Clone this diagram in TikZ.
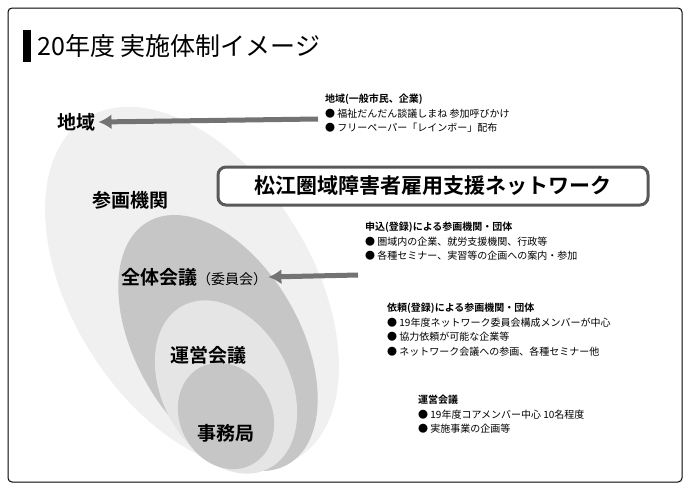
\documentclass[tikz,border=0pt]{standalone}
\usepackage{fontspec}
\setmainfont{Noto Sans CJK JP}
\newfontfamily\jpb{Noto Sans CJK JP Bold}
\begin{document}
\begin{tikzpicture}[x=1pt,y=-1pt,
 lbl/.style={font=\jpb\fontsize{19}{19}\selectfont,text=black},
 small/.style={font=\fontsize{10}{14.5}\selectfont,anchor=north west,align=left,inner sep=0},
 arr/.style={draw=gray!90!black,line width=5pt,-{Latex[length=13pt,width=15pt]}}]
\usetikzlibrary{arrows.meta}
\useasboundingbox (0,0) rectangle (690,490);
\draw[line width=1pt,rounded corners=4pt] (8,8) rectangle (682,482);
\fill (23,30) rectangle (31,62);
\node[anchor=west,font=\fontsize{25}{25}\selectfont] (title) at (34,46) {20年度 実施体制イメージ};
% ellipses
\fill[gray!12] (192,288) ellipse[x radius=200,y radius=120,rotate=-58];
\fill[gray!45] (218,343) ellipse[x radius=140,y radius=82,rotate=-60];
\fill[gray!20] (226,387) ellipse[x radius=92,y radius=64,rotate=-62];
\fill[gray!45] (226,416) ellipse[x radius=55,y radius=46,rotate=-62];
% labels
\node[lbl] (chiiki) at (76,122) {地域};
\node[lbl] (sankaku) at (130,200) {参画機関};
\node[lbl,anchor=west,inner sep=1pt] (zentai) at (120,277) {全体会議{\normalfont\fontsize{14}{14}\selectfont （委員会）}};
\node[lbl] (unei) at (208,355) {運営会議};
\node[lbl] (jimu) at (226,433) {事務局};
% network box
\node[draw=gray!70!black,line width=3pt,rounded corners=8pt,fill=white,minimum width=430pt,minimum height=38pt,font=\jpb\fontsize{21}{21}\selectfont] (net) at (433,186) {松江圏域障害者雇用支援ネットワーク};
% text blocks
\node[small] (t1) at (325,94) {{\jpb 地域(一般市民、企業)}\\● 福祉だんだん談議しまね 参加呼びかけ\\● フリーペーパー「レインボー」配布};
\node[small] (t2) at (365,222) {{\jpb 申込(登録)による参画機関・団体}\\● 圏域内の企業、就労支援機関、行政等\\● 各種セミナー、実習等の企画への案内・参加};
\node[small] (t3) at (387,303) {{\jpb 依頼(登録)による参画機関・団体}\\● 19年度ネットワーク委員会構成メンバーが中心\\● 協力依頼が可能な企業等\\● ネットワーク会議への参画、各種セミナー他};
\node[small] (t4) at (418,395) {{\jpb 運営会議}\\● 19年度コアメンバー中心 10名程度\\● 実施事業の企画等};
\coordinate (a1) at (318,119);
\coordinate (a2) at (358,275);
\draw[arr] (a1) -- (chiiki.east);
\draw[arr] (a2) -- (zentai.east);
\end{tikzpicture}
\end{document}
